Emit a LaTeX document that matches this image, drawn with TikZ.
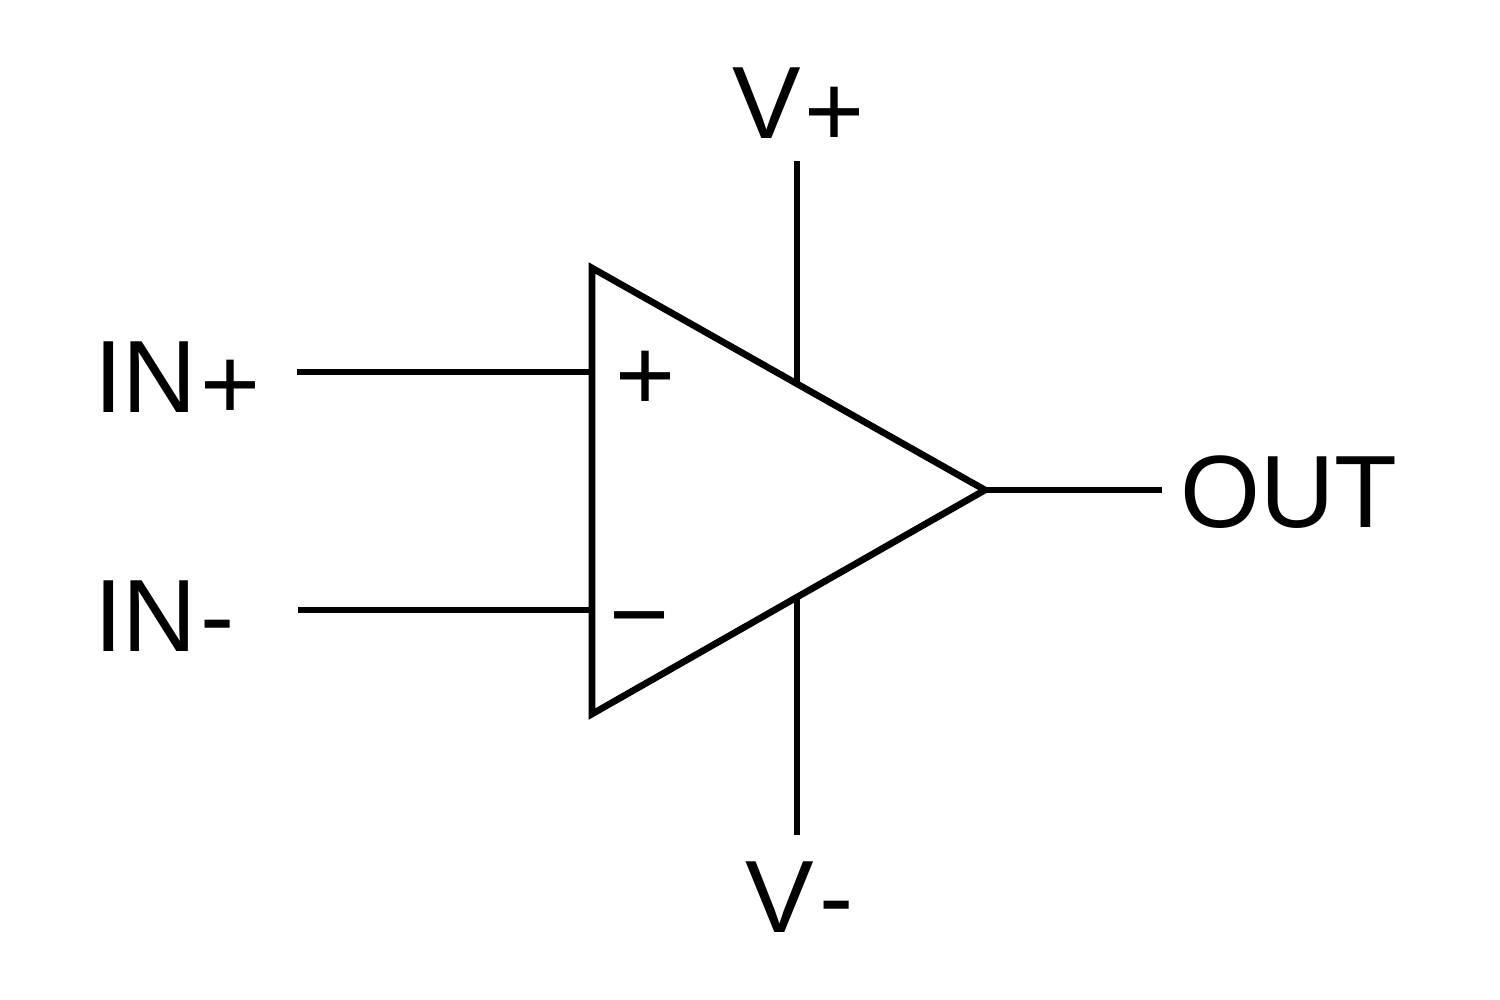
\documentclass[tikz,border=0pt]{standalone}
\usepackage{fontspec}
\setmainfont{Liberation Sans}
\begin{document}
\begin{tikzpicture}[x = 0.2mm, y = -0.2mm, wire/.style = {line width = 3.8pt}, pin/.style = {inner sep = 0pt, font = \fontsize{58.5}{60}\selectfont}]
  \useasboundingbox (0, 0) rectangle (1500, 1000);
  % triangle corners
  \coordinate (top) at (592, 268);
  \coordinate (bottom) at (592, 714);
  \coordinate (tip) at (985, 490);
  \draw[wire, line join = miter] (top) -- (tip) -- (bottom) -- cycle;
  % labels
  \node[pin, anchor = base west] (inplus) at (94, 412) {IN\kern2pt\raisebox{-4pt}{+}};
  \node[pin, anchor = base west] (inminus) at (94, 651) {IN\kern2pt-};
  \node[pin, anchor = base west] (out) at (1180, 527) {OUT};
  \node[pin, anchor = base west] (vplus) at (732, 138) {V\kern2pt\raisebox{-5pt}{+}};
  \node[pin, anchor = base west] (vminus) at (745, 932) {V\kern3pt-};
  \node[pin] (plus) at (646, 381) {+};
  \node[pin] (minus) at (640, 631) {−};
  % wires
  \coordinate (a) at (297, 372);
  \coordinate (ae) at (592, 372);
  \coordinate (b) at (298, 610);
  \coordinate (be) at (592, 610);
  \coordinate (c) at (1162, 490);
  \coordinate (d) at (797, 161);
  \coordinate (de) at (797, 383);
  \coordinate (e) at (797, 835);
  \coordinate (ee) at (797, 597);
  \draw[wire] (a) -- (ae);
  \draw[wire] (b) -- (be);
  \draw[wire] (tip) -- (c);
  \draw[wire] (d) -- (de);
  \draw[wire] (e) -- (ee);
\end{tikzpicture}
\end{document}
